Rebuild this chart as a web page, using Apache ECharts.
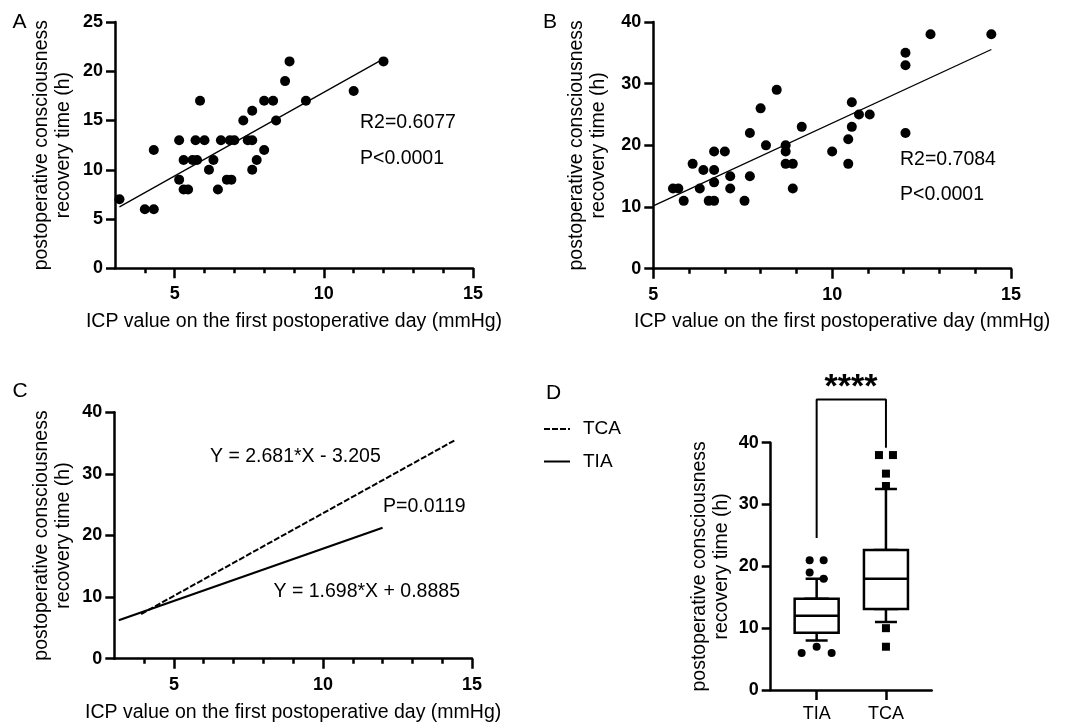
<!DOCTYPE html>
<html><head><meta charset="utf-8">
<script src="https://cdn.jsdelivr.net/npm/echarts@6/dist/echarts.min.js"></script>
<style>html,body{margin:0;padding:0;background:#fff}#c{width:1069px;height:725px}</style>
</head><body><div id="c"></div>
<script>
// ---------- data ----------
// Panel A: TIA patients
const aX = [3.15,4.0,4.3,4.3,5.15,5.15,5.3,5.3,5.45,5.6,5.75,5.7,5.85,6.0,6.15,6.3,6.45,6.55,6.75,6.9,6.85,7.0,7.3,7.45,7.6,7.6,7.6,7.75,8.0,8.0,8.3,8.4,8.7,8.85,9.4,11.0,12.0];
const aY = [7,6,6,12,13,9,11,8,8,11,11,13,17,13,10,11,8,13,9,9,13,13,15,13,13,16,10,11,12,17,17,15,19,21,17,18,21];
const aFitX = [3.15, 12];
const aFitY = [6.24, 21.26];
// Panel B: TCA patients
const bX = [5.55,5.7,5.85,6.1,6.3,6.4,6.55,6.7,6.7,6.7,6.7,7.0,7.15,7.15,7.55,7.7,7.7,8.0,8.15,8.45,8.7,8.7,8.7,8.9,8.9,9.15,10.0,10.45,10.45,10.55,10.55,10.75,11.05,12.05,12.05,12.05,12.75,14.45];
const bY = [13,13,11,17,13,16,11,11,19,16,14,19,15,13,11,15,22,26,20,29,20,19,17,17,13,23,19,17,21,23,27,25,25,22,33,35,38,38];
const bFitX = [5, 14.45];
const bFitY = [10.2, 35.54];
// Panel C: regression lines
const cTcaX = [3.9, 14.45];
const cTcaY = [7.25, 35.54];
const cTiaX = [3.15, 12];
const cTiaY = [6.24, 21.26];
// Panel D: box plots  [min, Q1, median, Q3, max]
const groups = ['TIA', 'TCA'];
const tiaBox = [8, 9.25, 12, 14.75, 18];
const tcaBox = [11, 13.1, 18, 22.65, 32.5];
const tiaOutliers = [21, 21, 19, 18, 7, 6, 6];
const tcaOutliers = [38, 38, 35, 33, 10, 7];
const bracketY = [24.6, 47, 47, 39.2];
// tick values
const xMajorTicks = [5, 10, 15];
const xMinorTicksA = [4, 6, 7, 8, 9, 11, 12, 13, 14];
const xMinorTicksB = [6, 7, 8, 9, 11, 12, 13, 14];

// ---------- helpers ----------
const FONT = '"Liberation Sans", Arial, Helvetica, sans-serif';
const zip = (xs, ys) => xs.map((x, i) => [x, ys[i]]);
const AXW = 2.5;
const xTitle = 'ICP value on the first postoperative day (mmHg)';
const yTitle = 'postoperative consciousness\nrecovery time (h)';

function majorX(grid, min, name, gap, pad) {
  return {gridIndex: grid, type: 'value', min: min, max: 15, position: 'bottom',
    axisLine: {show: true, onZero: false, lineStyle: {color: '#000', width: AXW}},
    axisTick: {show: true, customValues: xMajorTicks, length: 10, lineStyle: {color: '#000', width: AXW}},
    axisLabel: {show: true, customValues: xMajorTicks, margin: 17, fontSize: 18, fontWeight: 'bold', color: '#000', fontFamily: FONT},
    splitLine: {show: false},
    name: name, nameLocation: 'middle', nameGap: gap,
    nameTextStyle: {fontSize: 19.5, color: '#000', fontFamily: FONT, padding: pad || 0}};
}
function minorX(grid, min, ticks) {
  return {gridIndex: grid, type: 'value', min: min, max: 15, position: 'bottom',
    axisLine: {show: false, onZero: false},
    axisTick: {show: true, customValues: ticks, length: 5, lineStyle: {color: '#000', width: AXW}},
    axisLabel: {show: false}, splitLine: {show: false}};
}
function valY(grid, max, interval, gap, show) {
  return {gridIndex: grid, type: 'value', min: 0, max: max, interval: interval, show: show !== false,
    axisLine: {show: true, onZero: false, lineStyle: {color: '#000', width: AXW}},
    axisTick: {show: true, length: 9, lineStyle: {color: '#000', width: AXW}},
    axisLabel: {margin: 12, fontSize: 18, fontWeight: 'bold', color: '#000', fontFamily: FONT},
    splitLine: {show: false},
    name: show === false ? '' : yTitle, nameLocation: 'middle', nameRotate: 90, nameGap: gap,
    nameTextStyle: {fontSize: 19.5, lineHeight: 22, color: '#000', fontFamily: FONT, align: 'center'}};
}
function txt(x, y, s, size, extra) {
  return Object.assign({type: 'text', x: x, y: y, silent: true,
    style: Object.assign({text: s, fontSize: size, fontFamily: FONT, fill: '#000', verticalAlign: 'middle', align: 'left'}, extra || {})});
}

const chart = echarts.init(document.getElementById('c'), null, {renderer: 'canvas'});
const option = {
  animation: false,
  backgroundColor: '#fff',
  grid: [
    {left: 115, top: 22, width: 358, height: 246.3, outerBoundsMode: 'none'},   // A
    {left: 653.3, top: 22, width: 357.7, height: 246.7, outerBoundsMode: 'none'}, // B
    {left: 114.3, top: 412.3, width: 357.7, height: 246.4, outerBoundsMode: 'none'}, // C
    {left: 770.7, top: 442.7, width: 161, height: 247.3, outerBoundsMode: 'none'}, // D axes
    {left: 782, top: 442.7, width: 138.6, height: 247.3, outerBoundsMode: 'none'}, // D whiskers
    {left: 782, top: 442.7, width: 138.6, height: 247.3, outerBoundsMode: 'none'}  // D boxes
  ],
  xAxis: [
    majorX(0, 3, xTitle, 43),
    minorX(0, 3, xMinorTicksA),
    majorX(1, 5, xTitle, 43, [0, 0, 0, 20]),
    minorX(1, 5, xMinorTicksB),
    majorX(2, 3, xTitle, 44),
    minorX(2, 3, xMinorTicksA),
    {gridIndex: 3, type: 'value', min: 0, max: 1, position: 'bottom',
      axisLine: {show: true, onZero: false, lineStyle: {color: '#000', width: AXW}},
      axisTick: {show: false}, axisLabel: {show: false}, splitLine: {show: false}},
    {gridIndex: 4, type: 'category', data: groups, show: false},
    {gridIndex: 5, type: 'category', data: groups, position: 'bottom',
      axisLine: {show: false},
      axisTick: {show: true, alignWithLabel: true, length: 10, lineStyle: {color: '#000', width: AXW}},
      axisLabel: {margin: 15, fontSize: 18, color: '#000', fontFamily: FONT}}
  ],
  yAxis: [
    valY(0, 25, 5, 40),
    valY(1, 40, 10, 44),
    valY(2, 40, 10, 40),
    valY(3, 40, 10, 38),
    valY(4, 40, 10, 0, false),
    valY(5, 40, 10, 0, false)
  ],
  legend: {
    data: ['TCA', 'TIA'], orient: 'vertical', left: 543, top: 419, padding: 0,
    itemWidth: 26, itemHeight: 2, itemGap: 12.5,
    itemStyle: {opacity: 0},
    textStyle: {fontSize: 19, lineHeight: 20, color: '#000', fontFamily: FONT, padding: [0, 0, 0, 8]},
    selectedMode: false
  },
  series: [
    {type: 'scatter', xAxisIndex: 0, yAxisIndex: 0, data: zip(aX, aY), symbol: 'circle', symbolSize: 10,
      itemStyle: {color: '#000', opacity: 1}},
    {type: 'line', xAxisIndex: 0, yAxisIndex: 0, data: zip(aFitX, aFitY), symbol: 'none',
      lineStyle: {color: '#000', width: 1.3}},
    {type: 'scatter', xAxisIndex: 2, yAxisIndex: 1, data: zip(bX, bY), symbol: 'circle', symbolSize: 10,
      itemStyle: {color: '#000', opacity: 1}},
    {type: 'line', xAxisIndex: 2, yAxisIndex: 1, data: zip(bFitX, bFitY), symbol: 'none',
      lineStyle: {color: '#000', width: 1.3}},
    {name: 'TCA', type: 'line', xAxisIndex: 4, yAxisIndex: 2, data: zip(cTcaX, cTcaY), symbol: 'none',
      itemStyle: {color: '#000'}, lineStyle: {color: '#000', width: 2, type: [6, 2]}},
    {name: 'TIA', type: 'line', xAxisIndex: 4, yAxisIndex: 2, data: zip(cTiaX, cTiaY), symbol: 'none',
      itemStyle: {color: '#000'}, lineStyle: {color: '#000', width: 2.2}},
    // whiskers (narrow)
    {type: 'boxplot', xAxisIndex: 7, yAxisIndex: 4, boxWidth: [22, 22], z: 2,
      itemStyle: {color: '#fff', borderColor: '#000', borderWidth: AXW},
      data: [tiaBox, tcaBox]},
    // boxes (wide)
    {type: 'boxplot', xAxisIndex: 8, yAxisIndex: 5, boxWidth: [44, 44], z: 3,
      itemStyle: {color: '#fff', borderColor: '#000', borderWidth: AXW},
      data: [tiaBox, tcaBox].map(b => [b[1], b[1], b[2], b[3], b[3]])},
    {type: 'scatter', xAxisIndex: 8, yAxisIndex: 5, symbol: 'circle', symbolSize: 8, z: 4,
      itemStyle: {color: '#000', opacity: 1},
      data: tiaOutliers.map((v, i) => ({value: [0, v], symbolOffset: [[-7, 7, -7, 7, 0, -15, 15][i], 0]}))},
    {type: 'scatter', xAxisIndex: 8, yAxisIndex: 5, symbol: 'rect', symbolSize: 8, z: 4,
      itemStyle: {color: '#000', opacity: 1},
      data: tcaOutliers.map((v, i) => ({value: [1, v], symbolOffset: [[-7, 7, 0, 0, 0, 0][i], 0]}))},
    {type: 'line', xAxisIndex: 8, yAxisIndex: 5, clip: false, symbol: 'none', z: 4,
      lineStyle: {color: '#000', width: 2},
      data: [[0, bracketY[0]], [0, bracketY[1]], [1, bracketY[2]], [1, bracketY[3]]]}
  ],
  graphic: [
    txt(12.5, 22.5, 'A', 21),
    txt(543, 22.5, 'B', 21),
    txt(12.5, 391, 'C', 21),
    txt(546, 393, 'D', 21),
    txt(360, 122.7, 'R2=0.6077', 19.5),
    txt(360, 158.3, 'P<0.0001', 19.5),
    txt(900, 159.3, 'R2=0.7084', 19.5),
    txt(900, 194.3, 'P<0.0001', 19.5),
    txt(210, 456.7, 'Y = 2.681*X - 3.205', 19.5),
    txt(383, 506.7, 'P=0.0119', 19.5),
    txt(273.5, 591.7, 'Y = 1.698*X + 0.8885', 19.5),
    txt(851, 388, '****', 34, {align: 'center', fontWeight: 'bold'})
  ]
};
chart.setOption(option);
</script>
</body></html>
